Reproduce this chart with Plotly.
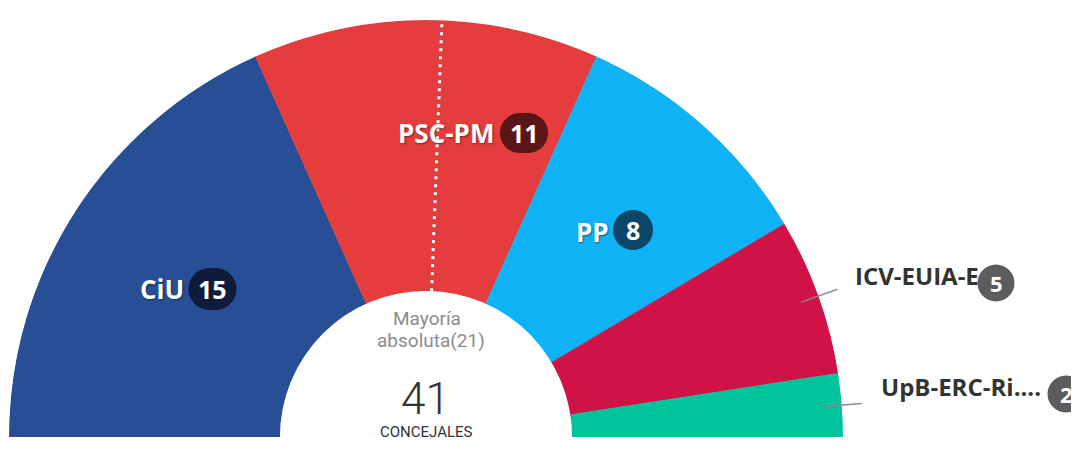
import numpy as np
import plotly.graph_objects as go

# ---------------- data ----------------
parties = ["CiU", "PSC-PM", "PP", "ICV-EUIA-E", "UpB-ERC-Ri...."]
seats = [15, 11, 8, 5, 2]
colors = ["#284f95", "#e53d3d", "#10b2f6", "#d01246", "#00c39c"]
badge_colors = ["#0f1b3b", "#5a1616", "#0a4668", "#5c5c5c", "#5c5c5c"]
total = sum(seats)
majority = total // 2 + 1
title_line1 = "Mayoría"
title_line2 = f"absoluta({majority})"
count_label = "CONCEJALES"

# ---------------- layout constants (screen pixels) ----------------
W, H = 1079, 461
OFF = 8  # page body margin
CX, CY, R = 426, 437, 417
HOLE = 146 / 417

# label placement (text centre / left, badge centre, badge size)
label_pos = [
    dict(tx=162, ty=289, anchor="center", bx=212.5, by=289, bw=48, bh=42, fs=26, bfs=25, inside=True),
    dict(tx=446, ty=133, anchor="center", bx=524, by=133, bw=48, bh=40, fs=26, bfs=25, inside=True),
    dict(tx=592, ty=232, anchor="center", bx=633, by=230, bw=40, bh=40, fs=26, bfs=25, inside=True),
    dict(tx=853, ty=275, anchor="left", bx=996, by=283, bw=37, bh=37, fs=24, bfs=22, inside=False),
    dict(tx=879, ty=386, anchor="left", bx=1066, by=394, bw=37, bh=37, fs=24, bfs=22, inside=False),
]


def px(x):
    return (x - OFF) / W


def py(y):
    return 1 - (y - OFF) / H


deg = 180 / total
seats_arr = np.array(seats, dtype=float)
cum = np.cumsum(seats_arr)
mids = 180 - (cum - seats_arr / 2) * deg
widths = seats_arr * deg

fig = go.Figure()
fig.add_trace(go.Barpolar(
    r=[1] * len(seats), theta=mids, width=widths,
    marker=dict(color=colors, line=dict(color=colors, width=0.5)),
    hoverinfo="skip", showlegend=False,
))
maj_theta = 180 - majority * deg
fig.add_trace(go.Scatterpolar(
    r=[0, 1], theta=[maj_theta, maj_theta], mode="lines",
    line=dict(color="white", width=3, dash="3px,5px"),
    hoverinfo="skip", showlegend=False,
))


def pill_path(cx, cy, w, h):
    r = h / 2
    k = 0.5523 * r
    x0 = cx - w / 2 + r
    x1 = cx + w / 2 - r
    top, bot = cy - r, cy + r
    pts = [
        ("M", [(x0, top)]),
        ("L", [(x1, top)]),
        ("C", [(x1 + k, top), (x1 + r, cy - k), (x1 + r, cy)]),
        ("C", [(x1 + r, cy + k), (x1 + k, bot), (x1, bot)]),
        ("L", [(x0, bot)]),
        ("C", [(x0 - k, bot), (x0 - r, cy + k), (x0 - r, cy)]),
        ("C", [(x0 - r, cy - k), (x0 - k, top), (x0, top)]),
    ]
    s = ""
    for cmd, ps in pts:
        s += cmd + " " + " ".join(f"{px(a):.6f},{py(b):.6f}" for a, b in ps) + " "
    return s + "Z"


shapes = []
annotations = []
shadow = "1px 1px 2px rgba(0,0,0,0.45)"
for i, (name, n) in enumerate(zip(parties, seats)):
    p = label_pos[i]
    shapes.append(dict(type="path", path=pill_path(p["bx"], p["by"], p["bw"], p["bh"]),
                       xref="paper", yref="paper", fillcolor=badge_colors[i],
                       line=dict(width=0), layer="above"))
    annotations.append(dict(
        x=px(p["tx"]), y=py(p["ty"]), xref="paper", yref="paper",
        xanchor=p["anchor"], yanchor="middle", showarrow=False, text=f"<b>{name}</b>",
        font=dict(family="Open Sans", size=p["fs"],
                  color="white" if p["inside"] else "#333333",
                  shadow=shadow if p["inside"] else "none"),
    ))
    annotations.append(dict(
        x=px(p["bx"]), y=py(p["by"]), xref="paper", yref="paper",
        xanchor="center", yanchor="middle", showarrow=False, text=f"<b>{n}</b>",
        font=dict(family="Open Sans", size=p["bfs"], color="white"),
    ))
    if not p["inside"]:
        th = np.deg2rad(mids[i])
        f0, f1 = 0.957, 1.048
        shapes.append(dict(
            type="line", xref="paper", yref="paper",
            x0=px(CX + f0 * R * np.cos(th)), y0=py(CY - f0 * R * np.sin(th)),
            x1=px(CX + f1 * R * np.cos(th)), y1=py(CY - f1 * R * np.sin(th)),
            line=dict(color="#8a8a8a", width=1.5), layer="above"))

center_font = "Roboto"
annotations += [
    dict(x=px(427), y=py(318), text=title_line1,
         font=dict(family=center_font, size=19, color="#8c8c8c")),
    dict(x=px(431), y=py(340), text=title_line2,
         font=dict(family=center_font, size=19, color="#8c8c8c")),
    dict(x=px(425), y=py(399), text=str(total),
         font=dict(family=center_font, size=44, color="#333333", weight=300)),
    dict(x=px(426), y=py(432), text=count_label,
         font=dict(family=center_font, size=15, color="#333333")),
]
for a in annotations[-4:]:
    a.update(xref="paper", yref="paper", xanchor="center", yanchor="middle", showarrow=False)

fig.update_layout(
    width=W, height=H,
    margin=dict(l=0, r=0, t=0, b=0),
    paper_bgcolor="white", plot_bgcolor="white",
    showlegend=False,
    polar=dict(
        domain=dict(x=[px(CX - R), px(CX + R)], y=[py(CY), py(CY - R)]),
        sector=[0, 180], hole=HOLE, bgcolor="rgba(0,0,0,0)",
        radialaxis=dict(visible=False, range=[0, 1]),
        angularaxis=dict(visible=False),
    ),
    shapes=shapes, annotations=annotations,
)

fig.write_html("out.html")
